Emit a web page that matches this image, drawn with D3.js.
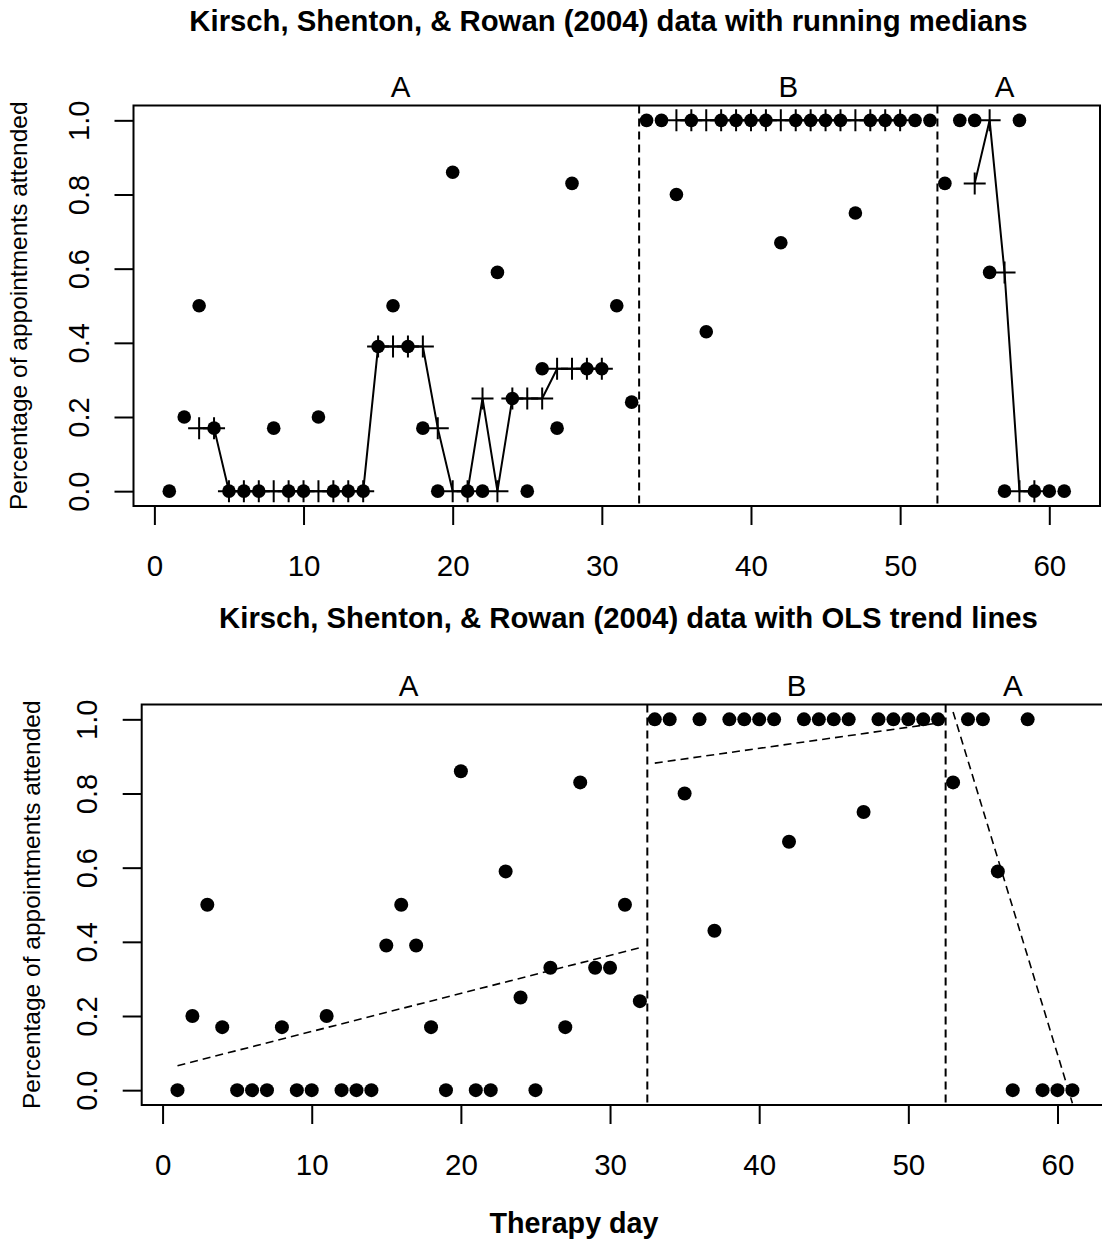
<!DOCTYPE html>
<html>
<head>
<meta charset="utf-8">
<script src="https://cdn.jsdelivr.net/npm/d3@7"></script>
<style>
  body { margin: 0; background: #fff; }
  svg text { font-family: "Liberation Sans", Arial, sans-serif; fill: #000; }
</style>
</head>
<body>
<div id="my_dataviz"></div>
<script>
const width = 1102;
const height = 1243;

// therapy days and proportion of appointments attended
const days = [1, 2, 3, 4, 5, 6, 7, 8, 9, 10, 11, 12, 13, 14, 15, 16, 17, 18, 19, 20,
    21, 22, 23, 24, 25, 26, 27, 28, 29, 30, 31, 32, 33, 34, 35, 36, 37, 38, 39, 40,
    41, 42, 43, 44, 45, 46, 47, 48, 49, 50, 51, 52, 53, 54, 55, 56, 57, 58, 59, 60, 61];
const attended = [0, 0.2, 0.5, 0.17, 0, 0, 0, 0.17, 0, 0, 0.2, 0, 0, 0, 0.39, 0.5, 0.39, 0.17, 0, 0.86,
    0, 0, 0.59, 0.25, 0, 0.33, 0.17, 0.83, 0.33, 0.33, 0.5, 0.24, 1, 1, 0.8, 1, 0.43, 1, 1, 1,
    1, 0.67, 1, 1, 1, 1, 0.75, 1, 1, 1, 1, 1, 0.83, 1, 1, 0.59, 0, 1, 0, 0, 0];

// phases
const phaseLabels = ["A", "B", "A"];
const phaseStart = [1, 33, 53];
const phaseEnd = [32, 52, 61];
const phaseBreaks = [32.5, 52.5];

// running medians, one list per phase
const medianDays = [
    [3, 4, 5, 6, 7, 8, 9, 10, 11, 12, 13, 14, 15, 16, 17, 18, 19, 20, 21, 22, 23, 24, 25, 26, 27, 28, 29, 30],
    [35, 36, 37, 38, 39, 40, 41, 42, 43, 44, 45, 46, 47, 48, 49, 50],
    [55, 56, 57, 58, 59]
];
const medianValues = [
    [0.17, 0.17, 0, 0, 0, 0, 0, 0, 0, 0, 0, 0, 0.39, 0.39, 0.39, 0.39, 0.17, 0, 0, 0.25, 0, 0.25, 0.25, 0.25, 0.33, 0.33, 0.33, 0.33],
    [1, 1, 1, 1, 1, 1, 1, 1, 1, 1, 1, 1, 1, 1, 1, 1],
    [0.83, 1, 0.59, 0, 0]
];

// OLS trend line ends per phase
const olsY0 = [0.066, 0.882, 1.02];
const olsY1 = [0.384, 0.99, -0.035];

const xTicks = [0, 10, 20, 30, 40, 50, 60];
const yTicks = [0, 0.2, 0.4, 0.6, 0.8, 1.0];

const points = days.map((d, i) => ({day: d, value: attended[i]}));

const svg = d3.select("#my_dataviz")
    .append("svg")
    .attr("width", width)
    .attr("height", height);

function draw_panel(p) {
    const xScale = d3.scaleLinear().domain([-1.4, 63.4]).range([p.left, p.left + 966.5]);
    const yScale = d3.scaleLinear().domain([-0.04, 1.04]).range([p.bottom, p.top]);

    const g = svg.append("g");

    // title
    g.append("text")
        .attr("x", p.titleX)
        .attr("y", p.titleY)
        .attr("text-anchor", "middle")
        .style("font-weight", "bold")
        .style("font-size", p.titleSize + "px")
        .text(p.title);

    // X axis
    const xAxis = g.append("g")
        .attr("transform", `translate(0,${p.bottom})`)
        .call(d3.axisBottom(xScale).tickValues(xTicks).tickSize(19).tickSizeOuter(0));
    xAxis.select(".domain").remove();
    xAxis.selectAll("line").attr("stroke", "#000").attr("stroke-width", 2);
    xAxis.selectAll("text")
        .attr("y", 70)
        .attr("dy", 0)
        .style("font-size", "29.5px")
        .attr("font-family", null);

    // Y axis
    const yAxis = g.append("g")
        .attr("transform", `translate(${p.left},0)`)
        .call(d3.axisLeft(yScale).tickValues(yTicks).tickSize(19).tickFormat(d3.format(".1f")));
    yAxis.select(".domain").remove();
    yAxis.selectAll("line").attr("stroke", "#000").attr("stroke-width", 2);
    yAxis.selectAll("text")
        .attr("x", 0)
        .attr("dy", 0)
        .attr("text-anchor", "middle")
        .attr("transform", "translate(-45,0) rotate(-90)")
        .style("font-size", "29px")
        .attr("font-family", null);

    // Y axis label
    g.append("text")
        .attr("text-anchor", "middle")
        .attr("transform", `translate(${p.ylabX},${(p.top + p.bottom) / 2}) rotate(-90)`)
        .style("font-size", "24.5px")
        .text("Percentage of appointments attended");

    // box
    g.append("rect")
        .attr("x", p.left)
        .attr("y", p.top)
        .attr("width", 966.5)
        .attr("height", p.bottom - p.top)
        .attr("fill", "none")
        .attr("stroke", "#000")
        .attr("stroke-width", 2);

    // phase labels
    g.selectAll(".phase")
        .data(phaseLabels)
        .enter()
        .append("text")
        .attr("class", "phase")
        .attr("x", (d, i) => xScale((phaseStart[i] + phaseEnd[i]) / 2))
        .attr("y", p.phaseY)
        .attr("text-anchor", "middle")
        .style("font-size", "29.5px")
        .text(d => d);

    // phase change lines
    g.selectAll(".break")
        .data(phaseBreaks)
        .enter()
        .append("line")
        .attr("x1", d => xScale(d))
        .attr("x2", d => xScale(d))
        .attr("y1", p.top)
        .attr("y2", p.bottom)
        .attr("stroke", "#000")
        .attr("stroke-width", 2)
        .attr("stroke-dasharray", "8,5");

    // data points
    g.selectAll(".dot")
        .data(points)
        .enter()
        .append("circle")
        .attr("cx", d => xScale(d.day))
        .attr("cy", d => yScale(d.value))
        .attr("r", p.r)
        .attr("fill", "#000");

    return {g, xScale, yScale};
}

// top panel: running medians
const topPanel = draw_panel({
    left: 133.5, top: 105.5, bottom: 506,
    title: "Kirsch, Shenton, & Rowan (2004) data with running medians",
    titleX: 608.5, titleY: 31, titleSize: 29.3,
    ylabX: 27, phaseY: 97, r: 6.8
});

const medLine = d3.line()
    .x(d => topPanel.xScale(d[0]))
    .y(d => topPanel.yScale(d[1]));

medianDays.forEach((ds, k) => {
    const pts = ds.map((d, i) => [d, medianValues[k][i]]);
    topPanel.g.append("path")
        .datum(pts)
        .attr("d", medLine)
        .attr("fill", "none")
        .attr("stroke", "#000")
        .attr("stroke-width", 2);
    topPanel.g.selectAll(null)
        .data(pts)
        .enter()
        .append("path")
        .attr("transform", d => `translate(${topPanel.xScale(d[0])},${topPanel.yScale(d[1])})`)
        .attr("d", "M-11,0H11M0,-11V11")
        .attr("stroke", "#000")
        .attr("stroke-width", 2);
});

// bottom panel: OLS trend lines
const bottomPanel = draw_panel({
    left: 141.7, top: 704.5, bottom: 1105,
    title: "Kirsch, Shenton, & Rowan (2004) data with OLS trend lines",
    titleX: 628.5, titleY: 628, titleSize: 29.3,
    ylabX: 40, phaseY: 696, r: 7
});

bottomPanel.g.selectAll(".ols")
    .data(phaseStart)
    .enter()
    .append("line")
    .attr("x1", (d, i) => bottomPanel.xScale(phaseStart[i]))
    .attr("x2", (d, i) => bottomPanel.xScale(phaseEnd[i]))
    .attr("y1", (d, i) => bottomPanel.yScale(olsY0[i]))
    .attr("y2", (d, i) => bottomPanel.yScale(olsY1[i]))
    .attr("stroke", "#000")
    .attr("stroke-width", 1.6)
    .attr("stroke-dasharray", "8,5");

// X axis label
svg.append("text")
    .attr("x", 574)
    .attr("y", 1233)
    .attr("text-anchor", "middle")
    .style("font-weight", "bold")
    .style("font-size", "28.7px")
    .text("Therapy day");
</script>
</body>
</html>
